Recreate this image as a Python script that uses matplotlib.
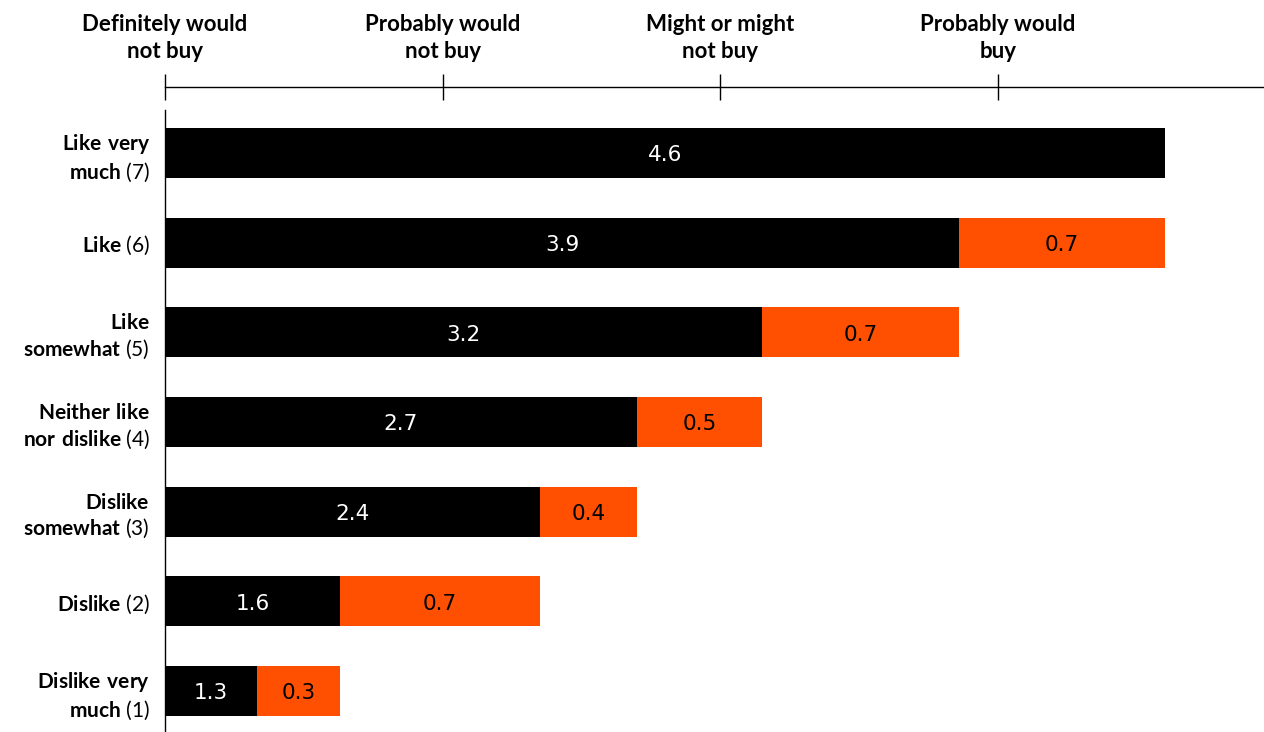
import numpy as np
import matplotlib
matplotlib.use('Agg')
import matplotlib.pyplot as plt

plt.rcParams['font.family'] = ['Lato', 'DejaVu Sans']
plt.rcParams['mathtext.fontset'] = 'custom'
plt.rcParams['mathtext.rm'] = 'Lato'
plt.rcParams['mathtext.bf'] = 'Lato:bold'

# rating categories (bold part, scale point)
cat_bold = ['Like very\nmuch', 'Like', 'Like\nsomewhat', 'Neither like\nnor dislike',
            'Dislike\nsomewhat', 'Dislike', 'Dislike very\nmuch']
cat_num = ['(7)', '(6)', '(5)', '(4)', '(3)', '(2)', '(1)']

# mean purchase intent and gap to next category
means = [4.60, 3.86, 3.15, 2.70, 2.35, 1.63, 1.33]
gaps = [0.00, 0.74, 0.71, 0.45, 0.35, 0.72, 0.30]
mean_labels = ['4.6', '3.9', '3.2', '2.7', '2.4', '1.6', '1.3']
gap_labels = ['', '0.7', '0.7', '0.5', '0.4', '0.7', '0.3']

scale_ticks = [1, 2, 3, 4]
scale_labels = ['Definitely would\nnot buy', 'Probably would\nnot buy',
                'Might or might\nnot buy', 'Probably would\nbuy']

ORANGE = '#FE5000'


def make_label(bold, num):
    lines = bold.split('\n')
    out = []
    for i, ln in enumerate(lines):
        s = r'$\mathbf{' + ln.replace(' ', r'\ ') + '}$'
        if i == len(lines) - 1:
            s += ' ' + num
        out.append(s)
    return '\n'.join(out)


fig = plt.figure(figsize=(12.64, 7.32), dpi=100)
ax = fig.add_axes([165 / 1264, 0.0, 1 - 165 / 1264, 1 - 110 / 732])

# spine position first, it resets the ticks
ax.spines['top'].set_position(('outward', 16.6))
ax.spines['right'].set_visible(False)
ax.spines['bottom'].set_visible(False)
ax.spines['top'].set_linewidth(1.0)
ax.spines['left'].set_linewidth(1.0)

y = np.arange(len(means))
ax.barh(y, np.array(means) - 1, left=1, height=0.556, color='black', linewidth=0)
for i in range(len(means)):
    if gaps[i] > 0:
        ax.barh(y[i], gaps[i], left=means[i], height=0.556, color=ORANGE, linewidth=0)

# value labels, nudged a little below the bar centre like the original
dy = 0.025
for i in range(len(means)):
    ax.text((1 + means[i]) / 2, y[i] + dy, mean_labels[i], ha='center', va='center',
            color='white', fontsize=15.5, family='DejaVu Sans')
    if gaps[i] > 0:
        ax.text(means[i] + gaps[i] / 2, y[i] + dy, gap_labels[i], ha='center', va='center',
                color='black', fontsize=15.5, family='DejaVu Sans')

ax.set_xlim(1, 4.958)
ax.set_ylim(6.456, -0.478)

ax.xaxis.tick_top()
ax.set_xticks(scale_ticks)
ax.tick_params(axis='x', direction='inout', length=19.4, width=1.0, pad=8, labelsize=16)
ax.set_xticklabels(scale_labels)
for t in ax.get_xticklabels(which='both'):
    t.set_fontweight('bold')
    t.set_linespacing(1.4)

ax.set_yticks(y)
ax.set_yticklabels([make_label(b, n) for b, n in zip(cat_bold, cat_num)],
                   fontsize=15, linespacing=1.25)
ax.tick_params(axis='y', length=0, pad=11)

fig.savefig('out.png', dpi=100)
